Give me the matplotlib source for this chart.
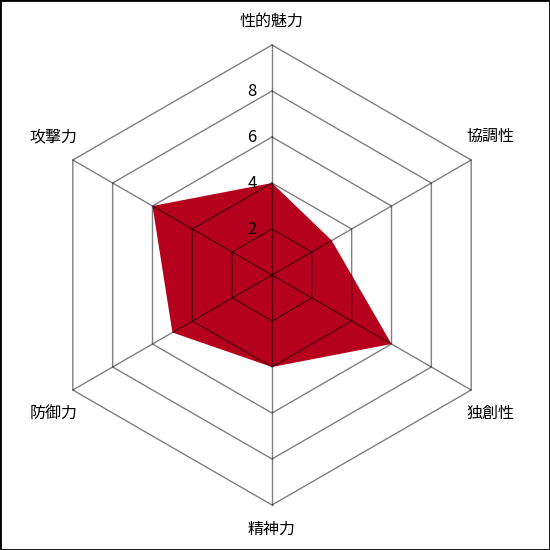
import numpy as np
import matplotlib.pyplot as plt
from matplotlib.patches import Rectangle

plt.rcParams['font.family'] = ['Noto Sans CJK JP', 'DejaVu Sans']

categories = ['性的魅力', '協調性', '独創性', '精神力', '防御力', '攻撃力']
values = [4, 3, 6, 4, 5, 6]
rings = [2, 4, 6, 8, 10]
tick_labels = ['2', '4', '6', '8']
max_value = 10

n = len(categories)
# start at top, go clockwise
angles = np.pi / 2 - np.arange(n) * 2 * np.pi / n

def to_xy(r, a):
    return r * np.cos(a), r * np.sin(a)

fig = plt.figure(figsize=(5.5, 5.5), dpi=100)
ax = fig.add_axes([0, 0, 1, 1])
scale = 23.0  # pixels per unit
cx, cy = 272, 275
ax.set_xlim(-cx / scale, (550 - cx) / scale)
ax.set_ylim(-(550 - cy) / scale, cy / scale)
ax.set_aspect('equal')
ax.axis('off')

# data polygon
xs, ys = to_xy(np.array(values, dtype=float), angles)
ax.fill(xs, ys, color='#b5001e', zorder=1, linewidth=0)

# hexagonal grid rings
for r in rings:
    rx, ry = to_xy(np.full(n + 1, r, dtype=float), np.append(angles, angles[0]))
    ax.plot(rx, ry, color='black', alpha=0.5, linewidth=1, zorder=2)

# spokes
for a in angles:
    sx, sy = to_xy(np.array([0, max_value], dtype=float), np.array([a, a]))
    ax.plot(sx, sy, color='black', alpha=0.5, linewidth=1, zorder=2)

# tick labels along the top spoke
for r, t in zip(rings[:-1], tick_labels):
    ax.text(-0.87, r, t, ha='center', va='center', fontsize=12, zorder=3)

# category labels (side labels sit a little further out vertically)
for cat, a in zip(categories, angles):
    lx, ly = to_xy(10.95, a)
    if abs(np.cos(a)) > 0.1:
        ly += 0.55 * np.sign(np.sin(a))
    else:
        ly += 0.1 * np.sign(np.sin(a))
    ax.text(lx, ly, cat, ha='center', va='center', fontsize=11.5, zorder=3)

fig.patches.append(Rectangle((0, 0), 1, 1, transform=fig.transFigure,
                             fill=False, edgecolor='black', linewidth=2))

fig.savefig('out.png', dpi=100)
